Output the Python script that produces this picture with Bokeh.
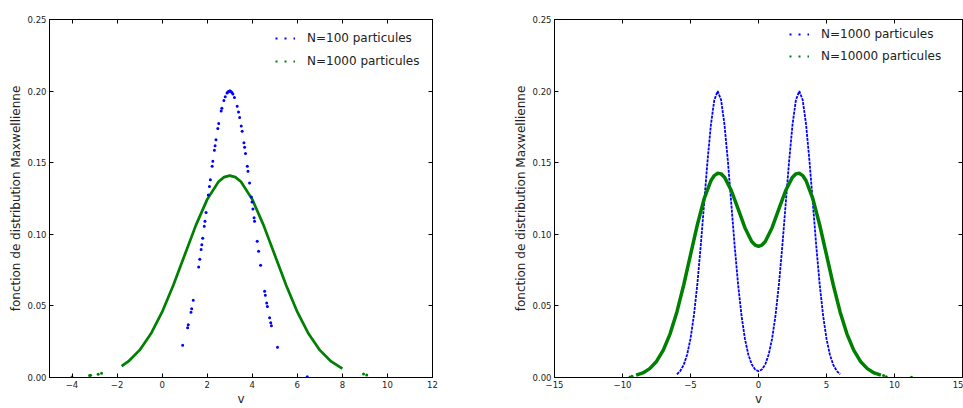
from bokeh.plotting import figure
from bokeh.models import Range1d, FixedTicker, LinearAxis, Legend, LegendItem
from bokeh.layouts import row
from bokeh.embed import file_html
from bokeh.resources import INLINE

# ---------------- data ----------------
y_ticks = [0.0, 0.05, 0.10, 0.15, 0.20, 0.25]
y_tick_labels = ["0.00", "0.05", "0.10", "0.15", "0.20", "0.25"]
left_x_ticks = [-4, -2, 0, 2, 4, 6, 8, 10, 12]
left_x_tick_labels = ["\u22124", "\u22122", "0", "2", "4", "6", "8", "10", "12"]
right_x_ticks = [-15, -10, -5, 0, 5, 10, 15]
right_x_tick_labels = ["\u221215", "\u221210", "\u22125", "0", "5", "10", "15"]

left_labels = ["N=100 particules", "N=1000 particules"]
right_labels = ["N=1000 particules", "N=10000 particules"]
y_title = "fonction de distribution Maxwellienne"
x_title = "v"

# left panel, N=100 (blue sample points)
left_blue_v = [0.91, 1.13, 1.16, 1.28, 1.31, 1.38, 1.62, 1.67, 1.73, 1.76, 1.80,
               1.87, 1.90, 1.95, 2.05, 2.10, 2.14, 2.22, 2.25, 2.32, 2.35, 2.39,
               2.47, 2.51, 2.62, 2.65, 2.74, 2.80, 2.88, 2.92, 2.95, 2.99, 3.02,
               3.06, 3.10, 3.14, 3.21, 3.33, 3.39, 3.44, 3.51, 3.55, 3.63, 3.66,
               3.70, 3.78, 3.81, 3.88, 3.96, 3.99, 4.03, 4.08, 4.10, 4.22, 4.28,
               4.37, 4.55, 4.58, 4.64, 4.67, 4.77, 4.82, 4.85, 5.12, 6.44]
left_blue_f = [0.0225, 0.0348, 0.0368, 0.0456, 0.0480, 0.0539, 0.0772, 0.0826, 0.0893, 0.0927, 0.0973,
               0.1057, 0.1092, 0.1153, 0.1274, 0.1334, 0.1381, 0.1475, 0.1510, 0.1587, 0.1619, 0.1661,
               0.1738, 0.1774, 0.1861, 0.1881, 0.1934, 0.1960, 0.1986, 0.1994, 0.1998, 0.2000, 0.2000,
               0.1996, 0.1990, 0.1980, 0.1956, 0.1894, 0.1854, 0.1815, 0.1756, 0.1719, 0.1640, 0.1608,
               0.1565, 0.1475, 0.1441, 0.1358, 0.1261, 0.1226, 0.1177, 0.1116, 0.1092, 0.0951, 0.0882,
               0.0783, 0.0602, 0.0574, 0.0521, 0.0496, 0.0418, 0.0382, 0.0361, 0.0212, 0.0005]

# left panel, N=1000 (green dense curve + isolated tail points)
left_green_v = [-1.8, -1.5, -1.0, -0.5, 0.0, 0.5, 1.0, 1.5, 2.0, 2.5, 2.75, 3.0,
                3.25, 3.5, 4.0, 4.5, 5.0, 5.5, 6.0, 6.5, 7.0, 7.5, 8.0]
left_green_f = [0.0079, 0.0112, 0.0191, 0.0305, 0.0458, 0.0646, 0.0855, 0.1064, 0.1244, 0.1367, 0.1399, 0.1410,
                0.1399, 0.1367, 0.1244, 0.1064, 0.0855, 0.0646, 0.0458, 0.0305, 0.0191, 0.0112, 0.0062]
left_green_tail_v = [-4.0, -3.22, -3.18, -2.84, -2.69, 8.94, 9.08]
left_green_tail_f = [0.0004, 0.0014, 0.0016, 0.0023, 0.0030, 0.0025, 0.0018]

# right panel, N=1000 (blue, two peaks)
right_blue_v = [-6.0, -5.75, -5.5, -5.25, -5.0, -4.75, -4.5, -4.25, -4.0, -3.75, -3.5, -3.25,
                -3.0, -2.75, -2.5, -2.25, -2.0, -1.75, -1.5, -1.25, -1.0, -0.75, -0.5, -0.25,
                0.0, 0.25, 0.5, 0.75, 1.0, 1.25, 1.5, 1.75, 2.0, 2.25, 2.5, 2.75,
                3.0, 3.25, 3.5, 3.75, 4.0, 4.25, 4.5, 4.75, 5.0, 5.25, 5.5, 5.75, 6.0]
right_blue_f = [0.0022, 0.0046, 0.0088, 0.0159, 0.0271, 0.0433, 0.0649, 0.0916, 0.1213, 0.1510, 0.1765, 0.1938,
                0.2000, 0.1938, 0.1765, 0.1510, 0.1213, 0.0916, 0.0649, 0.0433, 0.0271, 0.0161, 0.0092, 0.0056,
                0.0044, 0.0056, 0.0092, 0.0161, 0.0271, 0.0433, 0.0649, 0.0916, 0.1213, 0.1510, 0.1765, 0.1938,
                0.2000, 0.1938, 0.1765, 0.1510, 0.1213, 0.0916, 0.0649, 0.0433, 0.0271, 0.0159, 0.0088, 0.0046, 0.0022]

# right panel, N=10000 (green, dense curve + tail points)
right_green_v = [-9.0, -8.5, -8.0, -7.5, -7.0, -6.5, -6.0, -5.5, -5.0, -4.5, -4.0, -3.5, -3.25,
                 -3.0, -2.75, -2.5, -2.0, -1.5, -1.0, -0.5, -0.25, 0.0, 0.25, 0.5, 1.0, 1.5, 2.0, 2.5,
                 2.75, 3.0, 3.25, 3.5, 4.0, 4.5, 5.0, 5.5, 6.0, 6.5, 7.0, 7.5, 8.0, 8.5, 9.0]
right_green_f = [0.0016, 0.0032, 0.0062, 0.0112, 0.0191, 0.0305, 0.0458, 0.0646, 0.0856, 0.1065, 0.1247, 0.1374, 0.1410,
                 0.1426, 0.1422, 0.1399, 0.1306, 0.1177, 0.1046, 0.0950, 0.0925, 0.0916, 0.0925, 0.0950, 0.1046, 0.1177, 0.1306, 0.1399,
                 0.1422, 0.1426, 0.1410, 0.1374, 0.1247, 0.1065, 0.0856, 0.0646, 0.0458, 0.0305, 0.0191, 0.0112, 0.0062, 0.0032, 0.0016]
right_green_tail_v = [-9.45, -9.3, 9.2, 9.4, 11.25]
right_green_tail_f = [0.0004, 0.0008, 0.0014, 0.0006, 0.0002]

BLUE = "#0000ff"
GREEN = "#008000"
FONT = "DejaVu Sans"
TEXT = "#222222"


def style(p, xticks, xlabels):
    p.grid.visible = False
    p.outline_line_color = "black"
    p.outline_line_width = 1
    p.background_fill_color = "white"
    p.border_fill_color = "white"
    for ax, ticks, labels in ((p.xaxis[0], xticks, xlabels), (p.yaxis[0], y_ticks, y_tick_labels)):
        ax.ticker = FixedTicker(ticks=ticks)
        ax.major_label_overrides = {float(t): l for t, l in zip(ticks, labels)}
        ax.major_label_text_font = FONT
        ax.major_label_text_font_size = "8.5px"
        ax.major_label_text_color = TEXT
        ax.major_label_standoff = 3
        ax.axis_label_text_font = FONT
        ax.axis_label_text_font_size = "12px"
        ax.axis_label_text_font_style = "normal"
        ax.axis_label_text_color = TEXT
        ax.major_tick_in = 4
        ax.major_tick_out = 0
        ax.minor_tick_line_color = None
        ax.axis_line_color = "black"
        ax.major_tick_line_color = "black"
    p.xaxis[0].axis_label = x_title
    p.xaxis[0].axis_label_standoff = 1
    p.xaxis[0].major_label_standoff = 3
    p.yaxis[0].axis_label = y_title
    p.yaxis[0].axis_label_standoff = 2
    # tick marks on the top and right edges (no labels): drawn as minor ticks only
    top = LinearAxis(ticker=FixedTicker(ticks=[], minor_ticks=xticks),
                     major_tick_line_color=None, minor_tick_in=4, minor_tick_out=0,
                     minor_tick_line_color="black", axis_line_color="black")
    p.add_layout(top, "above")
    right = LinearAxis(ticker=FixedTicker(ticks=[], minor_ticks=y_ticks),
                       major_tick_line_color=None, minor_tick_in=4, minor_tick_out=0,
                       minor_tick_line_color="black", axis_line_color="black")
    p.add_layout(right, "right")


def add_legend(p, labels, series, location, spacing):
    items = []
    for lab, col, (sx, sy) in zip(labels, (BLUE, GREEN), series):
        # one-point line: draws nothing in the plot, gives a dotted glyph in the legend
        dummy = p.line(x=sx[:1], y=sy[:1], line_color=col, line_width=2, line_dash="2 7")
        items.append(LegendItem(label=lab, renderers=[dummy]))
    lg = Legend(items=items, location=location, margin=0, padding=0, spacing=spacing,
                glyph_width=20, glyph_height=16, label_height=16, label_standoff=12,
                label_text_font=FONT, label_text_font_size="12px", label_text_color=TEXT,
                border_line_color=None, background_fill_alpha=0)
    p.add_layout(lg)


H = 408

# ---------------- left figure ----------------
p1 = figure(width=500, height=H, x_range=Range1d(-5, 12), y_range=Range1d(0, 0.25),
            output_backend="svg", toolbar_location=None,
            min_border_left=49, min_border_right=68, min_border_top=19, min_border_bottom=0)
style(p1, left_x_ticks, left_x_tick_labels)
p1.line(left_green_v, left_green_f, line_color=GREEN, line_width=2.7)
p1.scatter(left_green_tail_v, left_green_tail_f, size=3, fill_color=GREEN, line_color=None)
p1.scatter(left_blue_v, left_blue_f, size=3, fill_color=BLUE, line_color=None)
add_legend(p1, left_labels, [(left_blue_v, left_blue_f), (left_green_v, left_green_f)],
           (226, 308), 7)

# ---------------- right figure ----------------
p2 = figure(width=463, height=H, x_range=Range1d(-15, 15), y_range=Range1d(0, 0.25),
            output_backend="svg", toolbar_location=None,
            min_border_left=54, min_border_right=1, min_border_top=14, min_border_bottom=0)
style(p2, right_x_ticks, right_x_tick_labels)
p2.line(right_blue_v, right_blue_f, line_color=BLUE, line_width=1.8, line_dash="3 1")
p2.line(right_green_v, right_green_f, line_color=GREEN, line_width=3.5)
p2.scatter(right_green_tail_v, right_green_tail_f, size=3, fill_color=GREEN, line_color=None)
add_legend(p2, right_labels, [(right_blue_v, right_blue_f), (right_green_v, right_green_f)],
           (235, 313), 6)

layout = row(p1, p2)
open("out.html", "w").write(file_html(layout, INLINE))
